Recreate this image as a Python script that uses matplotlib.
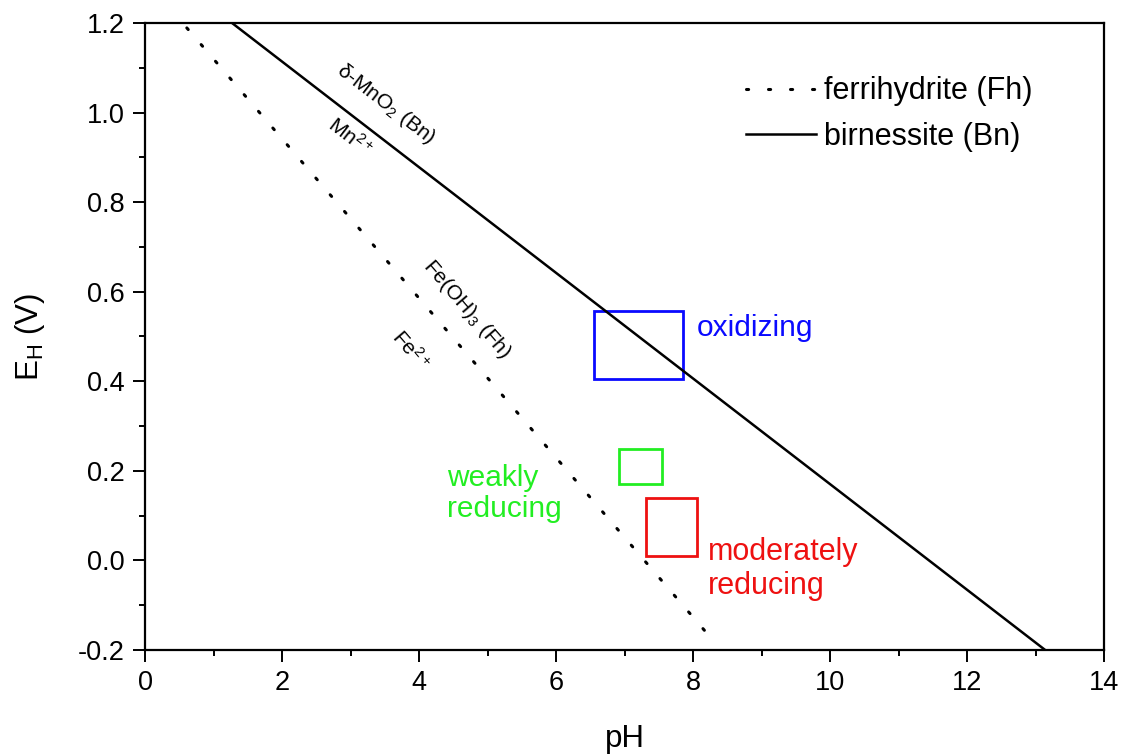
import numpy as np
import matplotlib
matplotlib.use("Agg")
import matplotlib.pyplot as plt
from matplotlib.patches import Rectangle
from matplotlib.ticker import MultipleLocator, FormatStrFormatter

plt.rcParams['font.family'] = ['Liberation Sans', 'DejaVu Sans']
plt.rcParams['mathtext.fontset'] = 'custom'
plt.rcParams['mathtext.rm'] = 'Liberation Sans'
plt.rcParams['mathtext.it'] = 'Liberation Sans'

# Line endpoints (pH, EH)
fh_ph = [0.61, 8.30]
fh_eh = [1.189, -0.180]
bn_ph = [1.27, 13.14]
bn_eh = [1.200, -0.200]

# Condition boxes: (pH_min, pH_max, EH_min, EH_max)
box_names = ["oxidizing", "weakly\nreducing", "moderately\nreducing"]
box_ph_min = [6.55, 6.92, 7.31]
box_ph_max = [7.85, 7.55, 8.06]
box_eh_min = [0.404, 0.171, 0.010]
box_eh_max = [0.556, 0.249, 0.140]
box_colors = ["#0a0aff", "#22ee22", "#ee1111"]

fig = plt.figure(figsize=(11.27, 7.54), dpi=100)
ax = fig.add_axes([0.1287, 0.138, 0.9796 - 0.1287, 0.9695 - 0.138])

ax.plot(fh_ph, fh_eh, color='black', lw=2.2, dashes=(0.7, 6.5), dash_capstyle='round',
        label='ferrihydrite (Fh)')
ax.plot(bn_ph, bn_eh, color='black', lw=1.8, label='birnessite (Bn)')

for x0, x1, y0, y1, c in zip(box_ph_min, box_ph_max, box_eh_min, box_eh_max, box_colors):
    ax.add_patch(Rectangle((x0, y0), x1 - x0, y1 - y0, fill=False, edgecolor=c, lw=2.0))

ax.text(8.05, 0.52, box_names[0], color=box_colors[0], fontsize=21.5, ha='left', va='center')
ax.text(4.41, 0.149, box_names[1], color=box_colors[1], fontsize=21.5, ha='left', va='center',
        linespacing=1.15)
ax.text(8.22, -0.019, box_names[2], color=box_colors[2], fontsize=22, ha='left', va='center',
        linespacing=1.15)

ax.set_xlim(0, 14)
ax.set_ylim(-0.2, 1.2)

fig.canvas.draw()

def angle_of(xs, ys):
    p = ax.transData.transform(np.column_stack([xs, ys]))
    d = p[1] - p[0]
    return np.degrees(np.arctan2(d[1], d[0]))

a_bn = angle_of(bn_ph, bn_eh)
a_fh = angle_of(fh_ph, fh_eh)

ax.text(3.52, 1.02, r'$\delta$-MnO$_2$ (Bn)', rotation=a_bn, rotation_mode='anchor',
        ha='center', va='center', fontsize=15)
ax.text(2.99, 0.945, r'Mn$^{2+}$', rotation=a_bn, rotation_mode='anchor',
        ha='center', va='center', fontsize=15)
ax.text(4.70, 0.56, r'Fe(OH)$_3$ (Fh)', rotation=a_fh, rotation_mode='anchor',
        ha='center', va='center', fontsize=15)
ax.text(3.87, 0.47, r'Fe$^{2+}$', rotation=a_fh, rotation_mode='anchor',
        ha='center', va='center', fontsize=15)

ax.xaxis.set_major_locator(MultipleLocator(2))
ax.xaxis.set_minor_locator(MultipleLocator(1))
ax.yaxis.set_major_locator(MultipleLocator(0.2))
ax.yaxis.set_minor_locator(MultipleLocator(0.1))
ax.yaxis.set_major_formatter(FormatStrFormatter('%.1f'))
ax.tick_params(which='major', direction='out', length=8.5, width=1.4, labelsize=19.5,
               top=False, right=False, pad=6)
ax.tick_params(which='minor', direction='out', length=4.5, width=1.4, top=False, right=False)
for s in ax.spines.values():
    s.set_linewidth(1.6)

ax.set_xlabel('pH', fontsize=22.5, labelpad=20)
ax.set_ylabel(r'E$_\mathrm{H}$ (V)', fontsize=22.5, labelpad=22)

leg = ax.legend(loc='upper right', bbox_to_anchor=(0.925, 0.915), frameon=False, fontsize=22,
                handlelength=2.3, handletextpad=0.25, labelspacing=0.5,
                borderpad=0, borderaxespad=0)

fig.savefig('out.png', dpi=100)
